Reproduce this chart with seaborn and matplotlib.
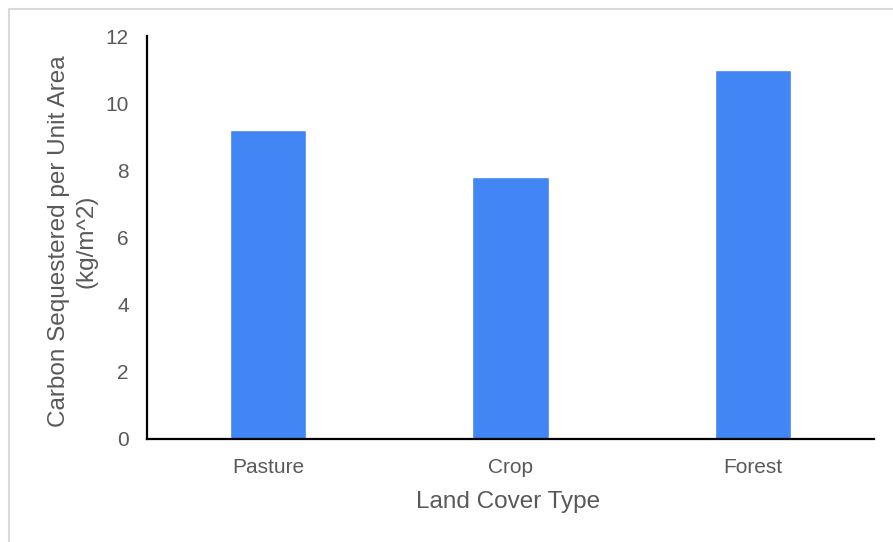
import matplotlib
matplotlib.use("Agg")
import matplotlib.pyplot as plt
from matplotlib.lines import Line2D
import seaborn as sns
import pandas as pd

categories = ["Pasture", "Crop", "Forest"]
values = [9.2, 7.8, 10.98]
y_ticks = [0, 2, 4, 6, 8, 10, 12]

sns.set_theme(style="white")
plt.rcParams['font.family'] = ['Liberation Sans', 'DejaVu Sans']

W, H = 893, 542
fig = plt.figure(figsize=(W / 100, H / 100), dpi=100)
ax = fig.add_axes([147 / W, 1 - 439 / H, (874 - 147) / W, (439 - 36) / H])

df = pd.DataFrame({"Land Cover Type": categories, "Carbon": values})
sns.barplot(data=df, x="Land Cover Type", y="Carbon", color="#4285F4",
            saturation=1, width=0.315, ax=ax)

text_color = "#595959"
ax.set_xlim(-0.5, 2.5)
ax.set_ylim(0, 12)
ax.set_yticks(y_ticks)
ax.set_yticklabels([str(t) for t in y_ticks])
ax.tick_params(axis="both", length=0, labelsize=15, labelcolor=text_color)
ax.tick_params(axis="y", pad=13)
ax.tick_params(axis="x", pad=13.5)

ax.set_xlabel("Land Cover Type", fontsize=17.5, color=text_color)
ax.set_ylabel("Carbon Sequestered per Unit Area\n(kg/m^2)", fontsize=17.5,
              color=text_color, linespacing=1.3)
ax.xaxis.set_label_coords(0.497, -0.13)
ax.yaxis.set_label_coords(-0.068, 0.49)

for s in ["top", "right"]:
    ax.spines[s].set_visible(False)
for s in ["left", "bottom"]:
    ax.spines[s].set_color("black")
    ax.spines[s].set_linewidth(1.6)

# light gray outer frame (left and top edges visible)
fig.add_artist(Line2D([8.5 / W, 8.5 / W], [0, 1 - 8.5 / H], transform=fig.transFigure,
                      color="#d9d9d9", lw=1.5))
fig.add_artist(Line2D([8.5 / W, 1], [1 - 8.5 / H, 1 - 8.5 / H], transform=fig.transFigure,
                      color="#d9d9d9", lw=1.5))

fig.savefig("out.png", dpi=100, facecolor="white")
